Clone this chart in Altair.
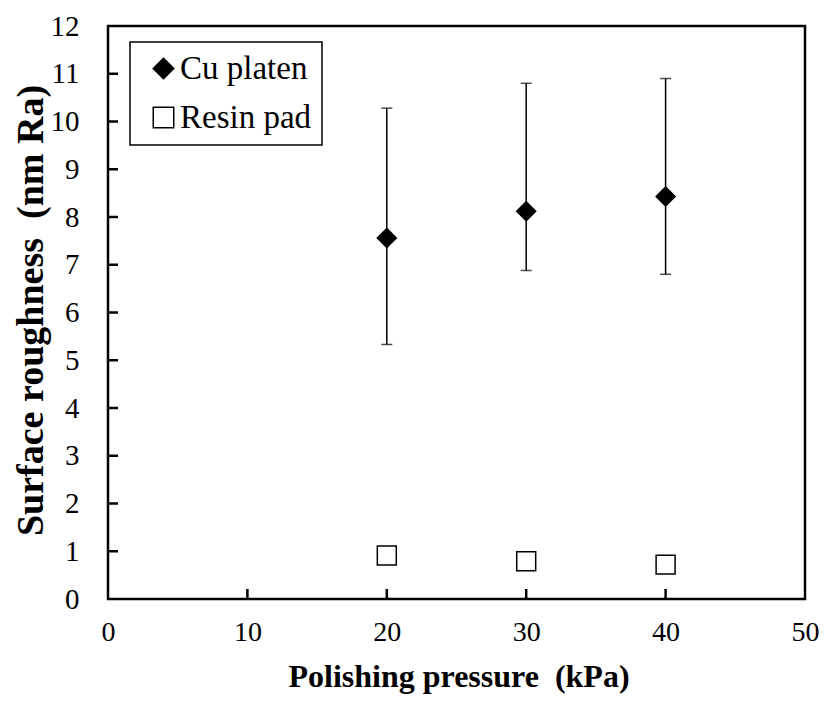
import altair as alt
import pandas as pd

pressure = [20, 30, 40]
cu_mean = [7.56, 8.12, 8.43]
cu_upper = [10.28, 10.8, 10.9]
cu_lower = [5.33, 6.88, 6.80]
resin_mean = [0.91, 0.79, 0.72]
series_names = ["Cu platen", "Resin pad"]
x_ticks = [0, 10, 20, 30, 40, 50]
y_ticks = list(range(0, 13))

W, H = 697, 573
FONT = "Liberation Serif"
NB = "\u00a0"

pts = pd.DataFrame({
    "p": pressure + pressure,
    "v": cu_mean + resin_mean,
    "s": [series_names[0]] * 3 + [series_names[1]] * 3,
})
err = pd.DataFrame({"p": pressure, "lo": cu_lower, "hi": cu_upper})
xt = pd.DataFrame({"t": x_ticks[1:-1]})
yt = pd.DataFrame({"t": y_ticks[1:-1]})

xs = alt.Scale(domain=[0, 50], nice=False, zero=False)
ys = alt.Scale(domain=[0, 12], nice=False, zero=False)

xaxis = alt.Axis(values=x_ticks, title="Polishing pressure" + NB + NB + "(kPa)", grid=False,
                 domain=False, ticks=False, labelPadding=19, labelFontSize=28,
                 labelFont=FONT, labelColor="black", titleFont=FONT,
                 titleFontSize=32, titleFontWeight="bold", titleColor="black",
                 titleX=W / 2 + 2, titleY=77, titleBaseline="middle",
                 labelFlush=False)
yaxis = alt.Axis(values=y_ticks, title="Surface roughness" + NB + NB + "(nm Ra)", grid=False,
                 domain=False, ticks=False, labelPadding=29, labelFontSize=29,
                 labelFont=FONT, labelColor="black", titleFont=FONT,
                 titleFontSize=38, titleFontWeight="bold", titleColor="black",
                 titleX=-77, titleY=284, titleAngle=270,
                 titleBaseline="middle", titleAlign="center", labelFlush=False)

base_x = alt.X("p:Q", scale=xs, axis=xaxis)

rules = alt.Chart(err).mark_rule(color="black", strokeWidth=1.5).encode(
    x=base_x,
    y=alt.Y("lo:Q", scale=ys, axis=yaxis),
    y2="hi:Q",
)
caps_hi = alt.Chart(err).mark_tick(color="black", orient="horizontal", size=11,
                                   thickness=1.5).encode(
    x=alt.X("p:Q", scale=xs), y=alt.Y("hi:Q", scale=ys))
caps_lo = alt.Chart(err).mark_tick(color="black", orient="horizontal", size=11,
                                   thickness=1.5).encode(
    x=alt.X("p:Q", scale=xs), y=alt.Y("lo:Q", scale=ys))

points = alt.Chart(pts).mark_point(filled=True, strokeWidth=1.5,
                                   size=360, opacity=1).encode(
    x=alt.X("p:Q", scale=xs),
    y=alt.Y("v:Q", scale=ys),
    shape=alt.Shape("s:N", scale=alt.Scale(domain=series_names,
                                           range=["diamond", "square"]),
                    legend=alt.Legend(title=None)),
    fill=alt.Fill("s:N", scale=alt.Scale(domain=series_names,
                                         range=["black", "white"]),
                  legend=alt.Legend(title=None)),
    stroke=alt.Stroke("s:N", scale=alt.Scale(domain=series_names,
                                             range=["black", "black"]),
                      legend=alt.Legend(title=None)),
)

xtick_marks = alt.Chart(xt).mark_rule(color="black", strokeWidth=2.5).encode(
    x=alt.X("t:Q", scale=xs), y=alt.value(H), y2=alt.value(H - 10))
ytick_marks = alt.Chart(yt).mark_rule(color="black", strokeWidth=2.5).encode(
    y=alt.Y("t:Q", scale=ys), x=alt.value(0), x2=alt.value(10))

chart = alt.layer(rules, caps_hi, caps_lo, xtick_marks, ytick_marks, points).properties(
    width=W, height=H,
    background="white",
    autosize=alt.AutoSizeParams(type="none"),
    padding={"left": 100, "top": 18, "right": 14, "bottom": 97},
).configure_view(
    stroke="black", strokeWidth=2.5
).configure_legend(
    orient="none", legendX=22, legendY=16,
    strokeColor="black", strokeWidth=1.5, fillColor="white",
    padding=10, labelFont=FONT, labelFontSize=33, labelColor="black",
    symbolSize=420, symbolStrokeWidth=1.5,
    symbolOffset=7, labelOffset=0, rowPadding=15, labelLimit=400,
)

chart.save("out.html", embed_options={"renderer": "svg", "actions": False})
